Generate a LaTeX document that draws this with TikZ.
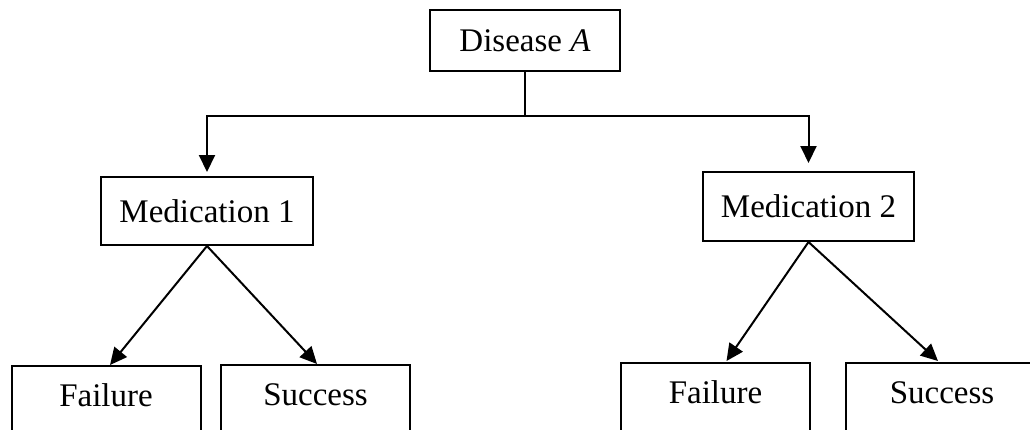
\documentclass[tikz,border=0pt]{standalone}
\usepackage{fontspec}
\setmainfont{Liberation Serif}
\usetikzlibrary{arrows.meta}
\begin{document}
\begin{tikzpicture}[x=1pt,y=-1pt,
  box/.style={draw=black,line width=2pt,fill=white,inner sep=0pt,font=\fontsize{33}{40}\selectfont},
  leaf/.style={box,anchor=north,minimum width=189pt,text height=40pt,text depth=90pt},
  con/.style={line width=2pt},
  arr/.style={con,-{Triangle[length=17pt,width=16pt]}}]
\path[use as bounding box,clip] (0,0) rectangle (1030,429);
\fill[white] (0,0) rectangle (1030,429);
\node[box,minimum width=190pt,minimum height=61pt] (dis) at (525,40.5) {Disease \textit{A}};
\node[box,minimum width=212pt,minimum height=68pt] (med1) at (207,211) {Medication 1};
\node[box,minimum width=211pt,minimum height=69pt] (med2) at (808.5,206.5) {Medication 2};
\node[leaf] (fail1) at (106,365) {Failure};
\node[leaf] (succ1) at (315.5,364) {Success};
\node[leaf] (fail2) at (715.5,362) {Failure};
\node[leaf,minimum width=192pt] (succ2) at (942,362) {Success};
\coordinate (jl) at (207,116);
\coordinate (jr) at (808.5,116);
\draw[con] (dis.south) -- (dis.south |- jl);
\draw[con] ([xshift=-1pt]jl) -- ([xshift=1pt]jr);
\draw[arr,shorten >=4pt] (jl) -- (med1.north);
\draw[arr,shorten >=8pt] (jr) -- (med2.north);
\draw[arr] (med1.south) -- ([xshift=4pt]fail1.north);
\draw[arr] (med1.south) -- ([xshift=1.5pt]succ1.north);
\draw[arr] (med2.south) -- ([xshift=11pt,yshift=1pt]fail2.north);
\draw[arr] (med2.south) -- ([xshift=-4pt,yshift=1pt]succ2.north);
\end{tikzpicture}
\end{document}
